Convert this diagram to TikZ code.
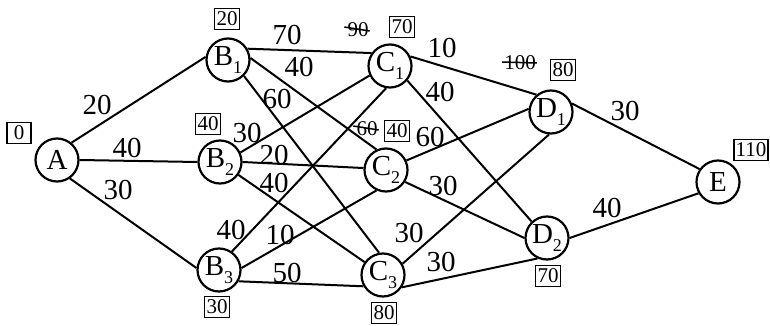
\documentclass[tikz,border=0pt]{standalone}
\usepackage{fontspec}
\setmainfont{Liberation Serif}
\newcommand{\sbs}[1]{\raisebox{-0.28em}{\fontsize{18}{18}\selectfont #1}}
\begin{document}
\begin{tikzpicture}[x=1pt,y=-1pt,
  vert/.style={circle,draw,line width=2.2pt,minimum size=43pt,inner sep=0pt,font=\fontsize{29}{30}\selectfont},
  wt/.style={font=\fontsize{29}{30}\selectfont,inner sep=0pt},
  bx/.style={draw,line width=1.9pt,inner sep=2pt,minimum width=24pt,minimum height=21pt,font=\fontsize{21}{22}\selectfont},
  old/.style={font=\fontsize{21}{22}\selectfont,inner sep=0pt},
  edge/.style={line width=2pt},
  strike/.style={line width=1.5pt}]
\useasboundingbox (0,0) rectangle (770,326);
% vertices
\node[vert] (A)  at (57,160)  {A};
\node[vert] (B1) at (228,60)  {B\sbs{1}};
\node[vert] (B2) at (220,162) {B\sbs{2}};
\node[vert] (B3) at (219,270) {B\sbs{3}};
\node[vert] (C1) at (390,66)  {C\sbs{1}};
\node[vert] (C2) at (386,170) {C\sbs{2}};
\node[vert] (C3) at (383,275) {C\sbs{3}};
\node[vert] (D1) at (551,112) {D\sbs{1}};
\node[vert] (D2) at (547,238) {D\sbs{2}};
\node[vert] (E)  at (718,182) {E};
% edges
\draw[edge] (A.50) -- (B1.172);
\draw[edge] (A.0) -- (B2.180);
\draw[edge] (A.-55) -- (B3.175);
\draw[edge] (B1.30) -- (C1.145);
\draw[edge] (B1.5) -- (C2.115);
\draw[edge] (B1.-45) -- (C3.100);
\draw[edge] (B2.25) -- (C1.205);
\draw[edge] (B2.0) -- (C2.175);
\draw[edge] (B2.-35) -- (C3.145);
\draw[edge] (B3.55) -- (C1.260);
\draw[edge] (B3.5) -- (C2.245);
\draw[edge] (B3.-30) -- (C3.210);
\draw[edge] (C1.25) -- (D1.130);
\draw[edge] (C1.-40) -- (D2.133);
\draw[edge] (C2.25) -- (D1.172);
\draw[edge] (C2.-32) -- (D2.180);
\draw[edge] (C3.30) -- (D1.265);
\draw[edge] (C3.-33) -- (D2.245);
\draw[edge] (D1.22) -- (E.145);
\draw[edge] (D2.0) -- (E.210);
% edge weights
\node[wt] (wAB1) at (97,105) {20};
\node[wt] (wAB2) at (127,148) {40};
\node[wt] (wAB3) at (118,190) {30};
\node[wt] (wB1C1) at (287,35) {70};
\node[wt] (wB1C2) at (299,67) {40};
\node[wt] (wB1C3) at (277,99) {60};
\node[wt] (wB2C1) at (247,133) {30};
\node[wt] (wB2C2) at (274,155) {20};
\node[wt] (wB2C3) at (274,183) {40};
\node[wt] (wB3C1) at (231,230) {40};
\node[wt] (wB3C2) at (280,235) {10};
\node[wt] (wB3C3) at (287,273) {50};
\node[wt] (wC1D1) at (442,48) {10};
\node[wt] (wC1D2) at (440,92) {40};
\node[wt] (wC2D1) at (430,137) {60};
\node[wt] (wC2D2) at (443,186) {30};
\node[wt] (wC3D1) at (409,233) {30};
\node[wt] (wC3D2) at (441,262) {30};
\node[wt] (wD1E) at (625,111) {30};
\node[wt] (wD2E) at (607,208) {40};
% boxed labels
\node[bx] (lA)  at (19,133)  {0};
\node[bx] (lB1) at (227,19)  {20};
\node[bx] (lB2) at (208,124) {40};
\node[bx] (lB3) at (217,307) {30};
\node[bx] (lC1) at (402,27)  {70};
\node[bx] (lC2) at (397,131) {40};
\node[bx] (lC3) at (384,313) {80};
\node[bx] (lD1) at (563,70)  {80};
\node[bx] (lD2) at (548,276) {70};
\node[bx] (lE)  at (751,150) {110};
% struck-out values
\node[old] (o90) at (358,30) {90};
\draw[strike] ([xshift=-3pt,yshift=3pt]o90.west) -- ([xshift=1pt,yshift=-1pt]o90.east);
\node[old] (o60) at (367,129) {60};
\draw[strike] ([xshift=-3pt,yshift=3pt]o60.west) -- ([xshift=1pt,yshift=-1pt]o60.east);
\node[old] (o100) at (520,63) {100};
\draw[strike] ([xshift=-2pt,yshift=1pt]o100.west) -- ([xshift=1pt]o100.east);
\end{tikzpicture}
\end{document}
